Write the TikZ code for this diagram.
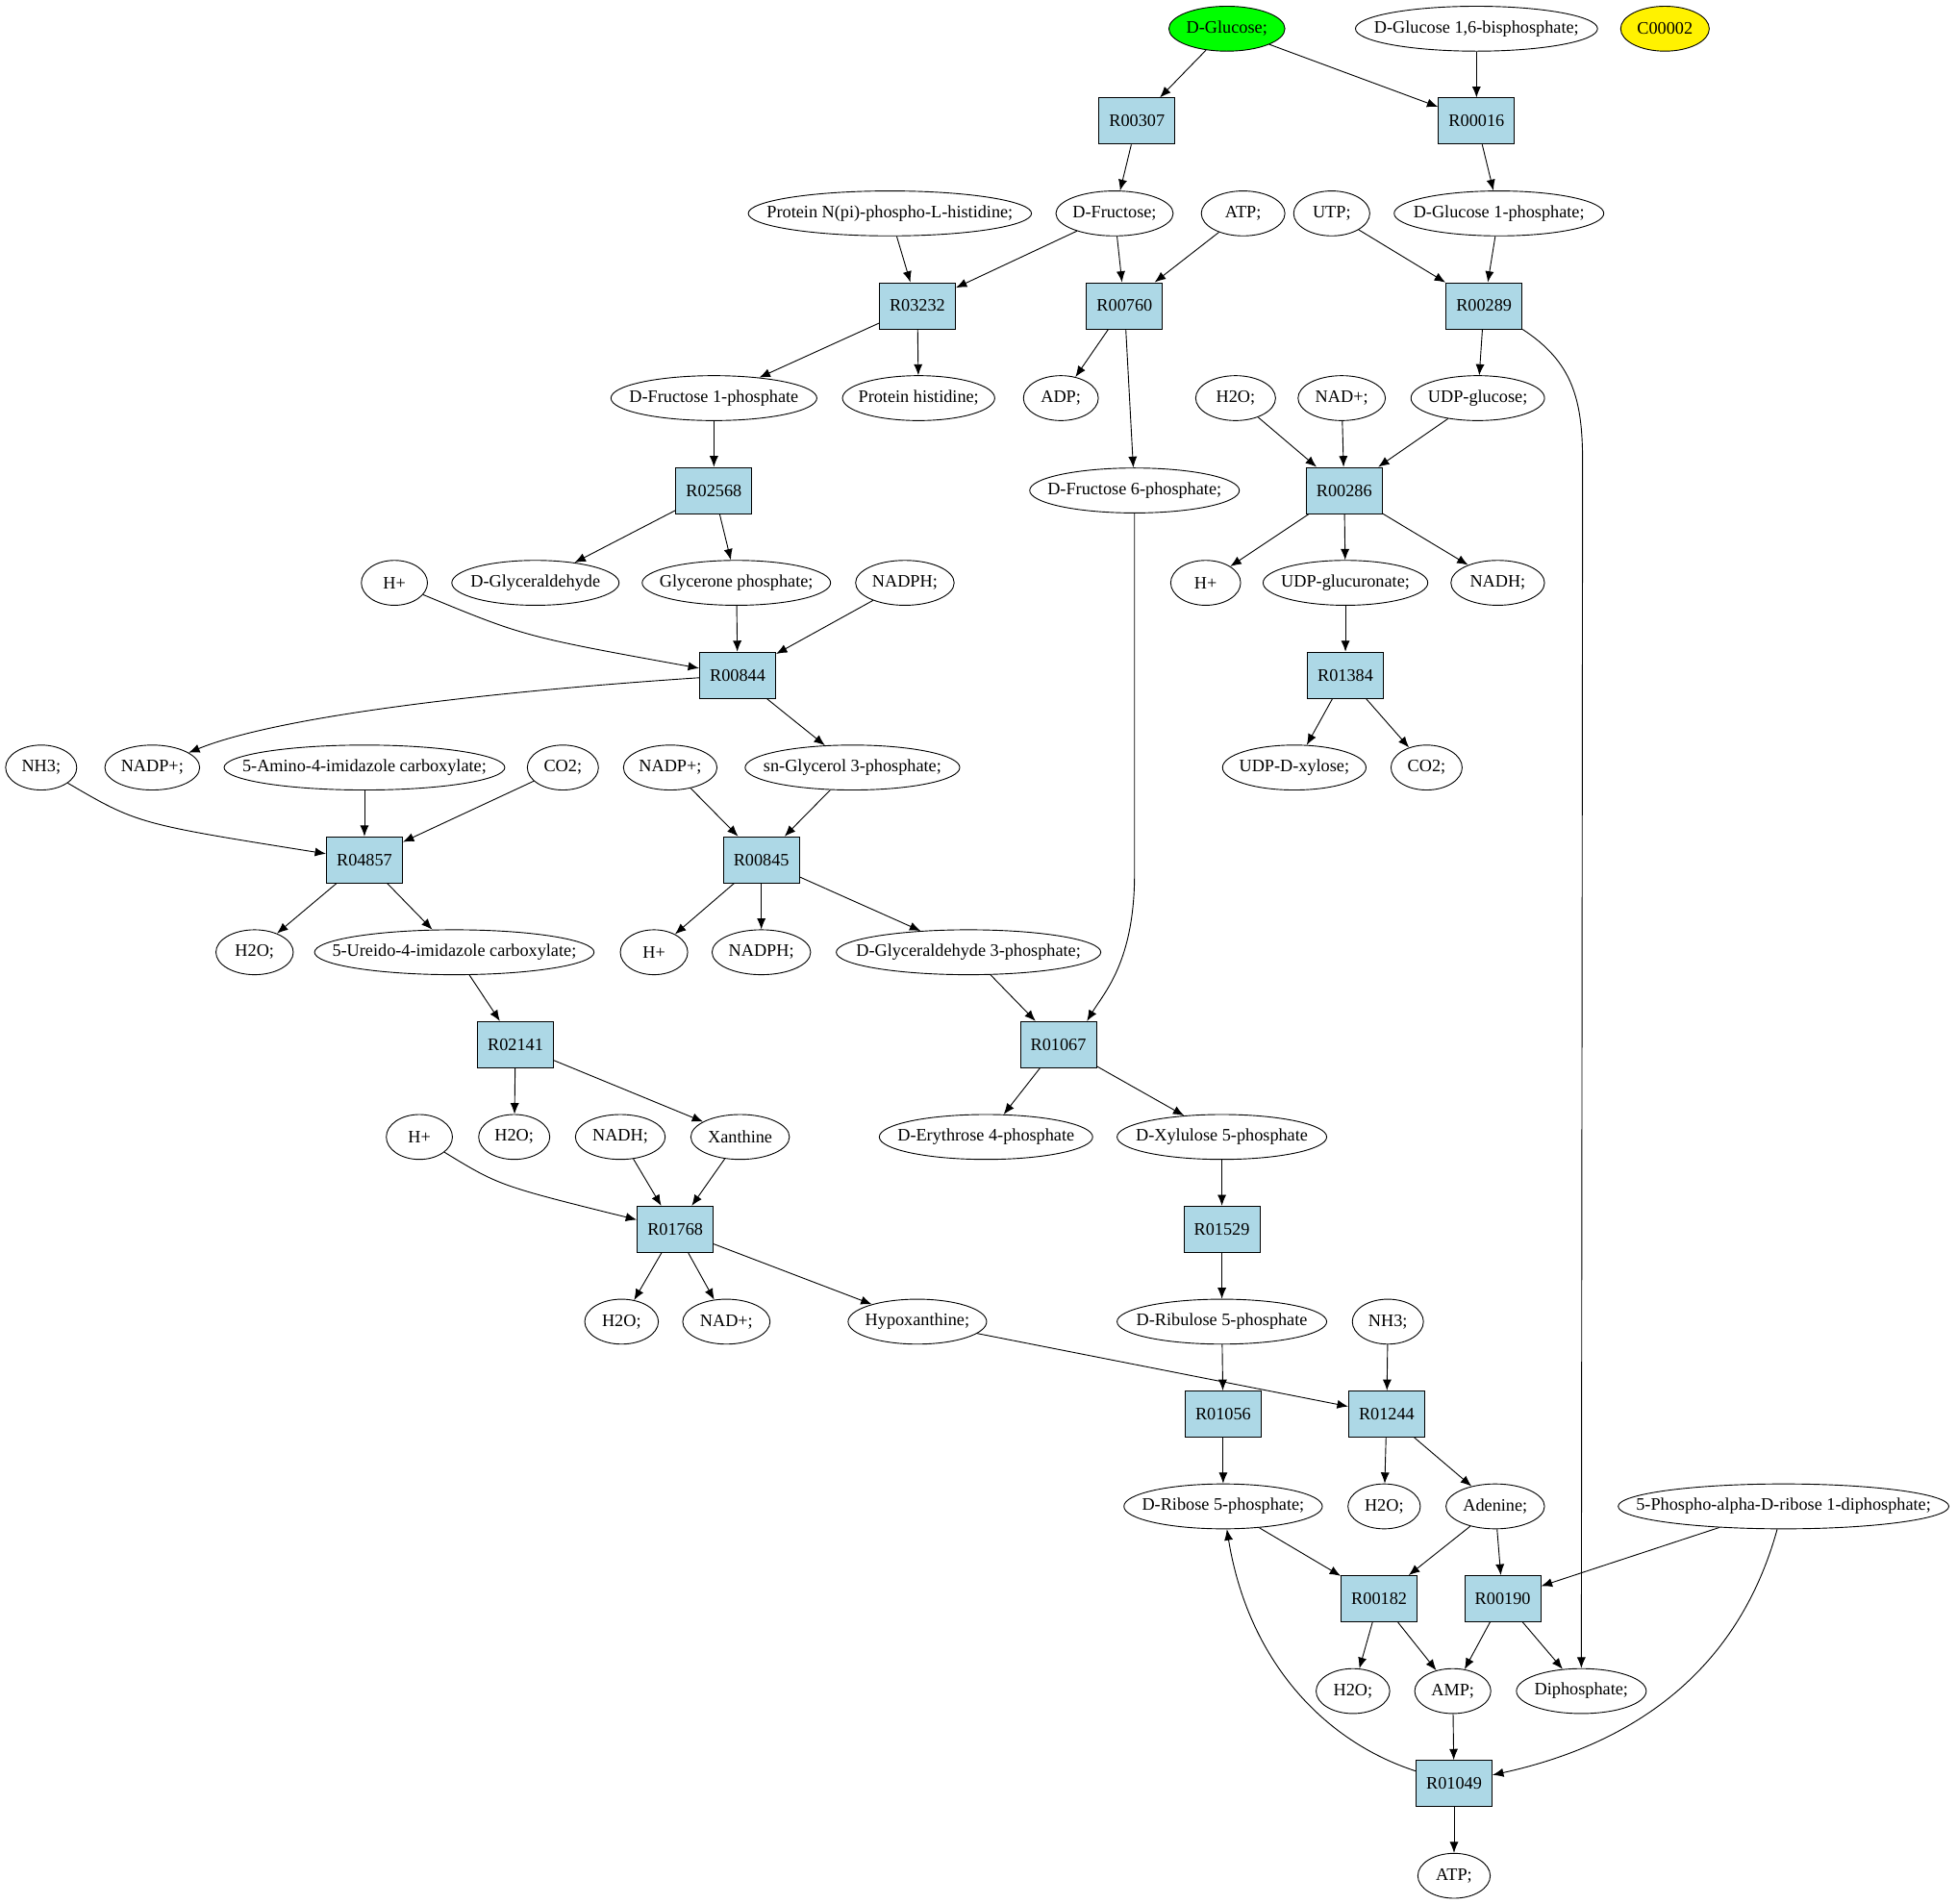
\documentclass[tikz,border=0pt]{standalone}
\usepackage{fontspec}
\setmainfont{Liberation Serif}
\usetikzlibrary{shapes.geometric,arrows.meta}
\definecolor{rxnblue}{RGB}{173,216,230}
\tikzset{
  met/.style={draw, ellipse, minimum height=0.72cm, inner sep=-1.5cm, font=\fontsize{8}{9}\selectfont},
  rxn/.style={draw, rectangle, fill=rxnblue, minimum width=1.22cm, minimum height=0.74cm, inner sep=0pt, font=\fontsize{8}{9}\selectfont},
  flow/.style={-{Latex[length=5pt,width=4pt]}, thin}
}
\begin{document}
\begin{tikzpicture}[x=0.02cm, y=-0.02cm]
    \useasboundingbox (0,0) rectangle (1568,1525);
    % compounds and reactions, row by row
    \node[met, fill=green, minimum width=1.86cm] (gluc) at (983,23) {D-Glucose;};
    \node[met, minimum width=3.88cm] (glucbp) at (1183,23) {D-Glucose 1,6-bisphosphate;};
    \node[met, fill=yellow, minimum width=1.42cm] (c00002) at (1334,23) {C00002};
    \node[rxn] (r00307) at (911,97) {R00307};
    \node[rxn] (r00016) at (1183,97) {R00016};
    \node[met, minimum width=4.54cm] (prot) at (713,171) {Protein N(pi)-phospho-L-histidine;};
    \node[met, minimum width=1.88cm] (fru) at (893,171) {D-Fructose;};
    \node[met, minimum width=1.34cm] (atpa) at (996,171) {ATP;};
    \node[met, minimum width=1.22cm] (utp) at (1067,171) {UTP;};
    \node[met, minimum width=3.36cm] (g1p) at (1201,171) {D-Glucose 1-phosphate;};
    \node[rxn] (r03232) at (735,245) {R03232};
    \node[rxn] (r00760) at (901,245) {R00760};
    \node[rxn] (r00289) at (1189,245) {R00289};
    \node[met, minimum width=3.3cm] (f1p) at (572,319) {D-Fructose 1-phosphate};
    \node[met, minimum width=2.44cm] (phis) at (736,319) {Protein histidine;};
    \node[met, minimum width=1.2cm] (adp) at (850,319) {ADP;};
    \node[met, minimum width=1.28cm] (h2oa) at (990,319) {H2O;};
    \node[met, minimum width=1.4cm] (nada) at (1075,319) {NAD+;};
    \node[met, minimum width=2.14cm] (udpg) at (1184,319) {UDP-glucose;};
    \node[rxn] (r02568) at (572,393) {R02568};
    \node[met, minimum width=3.36cm] (f6p) at (909,393) {D-Fructose 6-phosphate;};
    \node[rxn] (r00286) at (1077,393) {R00286};
    \node[met, minimum width=1.06cm] (hpa) at (316,467) {H+};
    \node[met, minimum width=2.68cm] (glya) at (429,467) {D-Glyceraldehyde};
    \node[met, minimum width=3.02cm] (gnp) at (590,467) {Glycerone phosphate;};
    \node[met, minimum width=1.58cm] (nadpha) at (725,467) {NADPH;};
    \node[met, minimum width=1.12cm] (hpb) at (966,467) {H+};
    \node[met, minimum width=2.64cm] (udpgu) at (1078,467) {UDP-glucuronate;};
    \node[met, minimum width=1.5cm] (nadha) at (1200,467) {NADH;};
    \node[rxn] (r00844) at (591,541) {R00844};
    \node[rxn] (r01384) at (1078,541) {R01384};
    \node[met, minimum width=1.14cm] (nh3a) at (33,615) {NH3;};
    \node[met, minimum width=1.52cm] (nadpa) at (122,615) {NADP+;};
    \node[met, minimum width=4.5cm] (aic) at (292,615) {5-Amino-4-imidazole carboxylate;};
    \node[met, minimum width=1.14cm] (co2a) at (451,615) {CO2;};
    \node[met, minimum width=1.5cm] (nadpb) at (537,615) {NADP+;};
    \node[met, minimum width=3.44cm] (g3p) at (683,615) {sn-Glycerol 3-phosphate;};
    \node[met, minimum width=2.3cm] (udpx) at (1037,615) {UDP-D-xylose;};
    \node[met, minimum width=1.14cm] (co2b) at (1143,615) {CO2;};
    \node[rxn] (r04857) at (292,689) {R04857};
    \node[rxn] (r00845) at (610,689) {R00845};
    \node[met, minimum width=1.24cm] (h2ob) at (204,763) {H2O;};
    \node[met, minimum width=4.48cm] (uic) at (364,763) {5-Ureido-4-imidazole carboxylate;};
    \node[met, minimum width=1.08cm] (hpc) at (524,763) {H+};
    \node[met, minimum width=1.58cm] (nadphb) at (610,763) {NADPH;};
    \node[met, minimum width=4.24cm] (gap) at (776,763) {D-Glyceraldehyde 3-phosphate;};
    \node[rxn] (r02141) at (413,837) {R02141};
    \node[rxn] (r01067) at (848,837) {R01067};
    \node[met, minimum width=1.06cm] (hpd) at (336,911) {H+};
    \node[met, minimum width=1.14cm] (h2oc) at (412,911) {H2O;};
    \node[met, minimum width=1.44cm] (nadhb) at (497,911) {NADH;};
    \node[met, minimum width=1.58cm] (xan) at (593,911) {Xanthine};
    \node[met, minimum width=3.42cm] (e4p) at (790,911) {D-Erythrose 4-phosphate};
    \node[met, minimum width=3.36cm] (xu5p) at (979,911) {D-Xylulose 5-phosphate};
    \node[rxn] (r01768) at (541,985) {R01768};
    \node[rxn] (r01529) at (979,985) {R01529};
    \node[met, minimum width=1.18cm] (h2od) at (498,1059) {H2O;};
    \node[met, minimum width=1.4cm] (nadb) at (582,1059) {NAD+;};
    \node[met, minimum width=2.22cm] (hyp) at (735,1059) {Hypoxanthine;};
    \node[met, minimum width=3.36cm] (ru5p) at (979,1059) {D-Ribulose 5-phosphate};
    \node[met, minimum width=1.14cm] (nh3b) at (1112,1059) {NH3;};
    \node[rxn] (r01056) at (980,1133) {R01056};
    \node[rxn] (r01244) at (1111,1133) {R01244};
    \node[met, minimum width=3.18cm] (r5p) at (980,1207) {D-Ribose 5-phosphate;};
    \node[met, minimum width=1.16cm] (h2oe) at (1109,1207) {H2O;};
    \node[met, minimum width=1.58cm] (ade) at (1198,1207) {Adenine;};
    \node[met, minimum width=5.3cm] (prpp) at (1429,1207) {5-Phospho-alpha-D-ribose 1-diphosphate;};
    \node[rxn] (r00182) at (1105,1281) {R00182};
    \node[rxn] (r00190) at (1204,1281) {R00190};
    \node[met, minimum width=1.18cm] (h2of) at (1084,1355) {H2O;};
    \node[met, minimum width=1.22cm] (amp) at (1164,1355) {AMP;};
    \node[met, minimum width=2.08cm] (dip) at (1267,1355) {Diphosphate;};
    \node[rxn] (r01049) at (1165,1429) {R01049};
    \node[met, minimum width=1.16cm] (atpb) at (1165,1503) {ATP;};
    % edges
    \draw[flow] (gluc) -- (r00307);
    \draw[flow] (gluc) -- (r00016);
    \draw[flow] (glucbp) -- (r00016);
    \draw[flow] (r00307) -- (fru);
    \draw[flow] (r00016) -- (g1p);
    \draw[flow] (prot) -- (r03232);
    \draw[flow] (fru) -- (r03232);
    \draw[flow] (fru) -- (r00760);
    \draw[flow] (atpa) -- (r00760);
    \draw[flow] (utp) -- (r00289);
    \draw[flow] (g1p) -- (r00289);
    \draw[flow] (r03232) -- (f1p);
    \draw[flow] (r03232) -- (phis);
    \draw[flow] (r00760) -- (adp);
    \draw[flow] (r00760) -- (f6p);
    \draw[flow] (r00289) -- (udpg);
    \draw[flow] (r00289.south east) .. controls (1260,290) and (1268,320) .. (1268,370) -- (dip.north);
    \draw[flow] (h2oa) -- (r00286);
    \draw[flow] (nada) -- (r00286);
    \draw[flow] (udpg) -- (r00286);
    \draw[flow] (f1p) -- (r02568);
    \draw[flow] (r02568) -- (glya);
    \draw[flow] (r02568) -- (gnp);
    \draw[flow] (f6p.south) -- (909,700) .. controls (909,770) and (885,795) .. ([xshift=-0.16cm]r01067.north east);
    \draw[flow] (r00286) -- (hpb);
    \draw[flow] (r00286) -- (udpgu);
    \draw[flow] (r00286) -- (nadha);
    \draw[flow] (hpa) .. controls (420,510) .. (r00844);
    \draw[flow] (gnp) -- (r00844);
    \draw[flow] (nadpha) -- (r00844);
    \draw[flow] (udpgu) -- (r01384);
    \draw[flow] (r00844) .. controls (380,555) and (220,575) .. (nadpa);
    \draw[flow] (r00844) -- (g3p);
    \draw[flow] (r01384) -- (udpx);
    \draw[flow] (r01384) -- (co2b);
    \draw[flow] (nh3a) .. controls (110,660) .. (r04857);
    \draw[flow] (aic) -- (r04857);
    \draw[flow] (co2a) -- (r04857);
    \draw[flow] (nadpb) -- (r00845);
    \draw[flow] (g3p) -- (r00845);
    \draw[flow] (r04857) -- (h2ob);
    \draw[flow] (r04857) -- (uic);
    \draw[flow] (r00845) -- (hpc);
    \draw[flow] (r00845) -- (nadphb);
    \draw[flow] (r00845) -- (gap);
    \draw[flow] (uic) -- (r02141);
    \draw[flow] (gap) -- (r01067);
    \draw[flow] (r02141) -- (h2oc);
    \draw[flow] (r02141) -- (xan);
    \draw[flow] (r01067) -- (e4p);
    \draw[flow] (r01067) -- (xu5p);
    \draw[flow] (hpd) .. controls (400,950) .. (r01768);
    \draw[flow] (nadhb) -- (r01768);
    \draw[flow] (xan) -- (r01768);
    \draw[flow] (xu5p) -- (r01529);
    \draw[flow] (r01768) -- (h2od);
    \draw[flow] (r01768) -- (nadb);
    \draw[flow] (r01768) -- (hyp);
    \draw[flow] (r01529) -- (ru5p);
    \draw[flow] (ru5p) -- (r01056);
    \draw[flow] (hyp) -- (r01244);
    \draw[flow] (nh3b) -- (r01244);
    \draw[flow] (r01056) -- (r5p);
    \draw[flow] (r01244) -- (h2oe);
    \draw[flow] (r01244) -- (ade);
    \draw[flow] (r5p) -- (r00182);
    \draw[flow] (ade) -- (r00182);
    \draw[flow] (ade) -- (r00190);
    \draw[flow] (prpp) -- (r00190);
    \draw[flow] (prpp) .. controls (1395,1330) and (1320,1395) .. (r01049);
    \draw[flow] (r00182) -- (h2of);
    \draw[flow] (r00182) -- (amp);
    \draw[flow] (r00190) -- (amp);
    \draw[flow] (r00190) -- (dip);
    \draw[flow] (amp) -- (r01049);
    \draw[flow] (r01049) .. controls (1060,1395) and (1000,1330) .. (r5p);
    \draw[flow] (r01049) -- (atpb);
\end{tikzpicture}
\end{document}
